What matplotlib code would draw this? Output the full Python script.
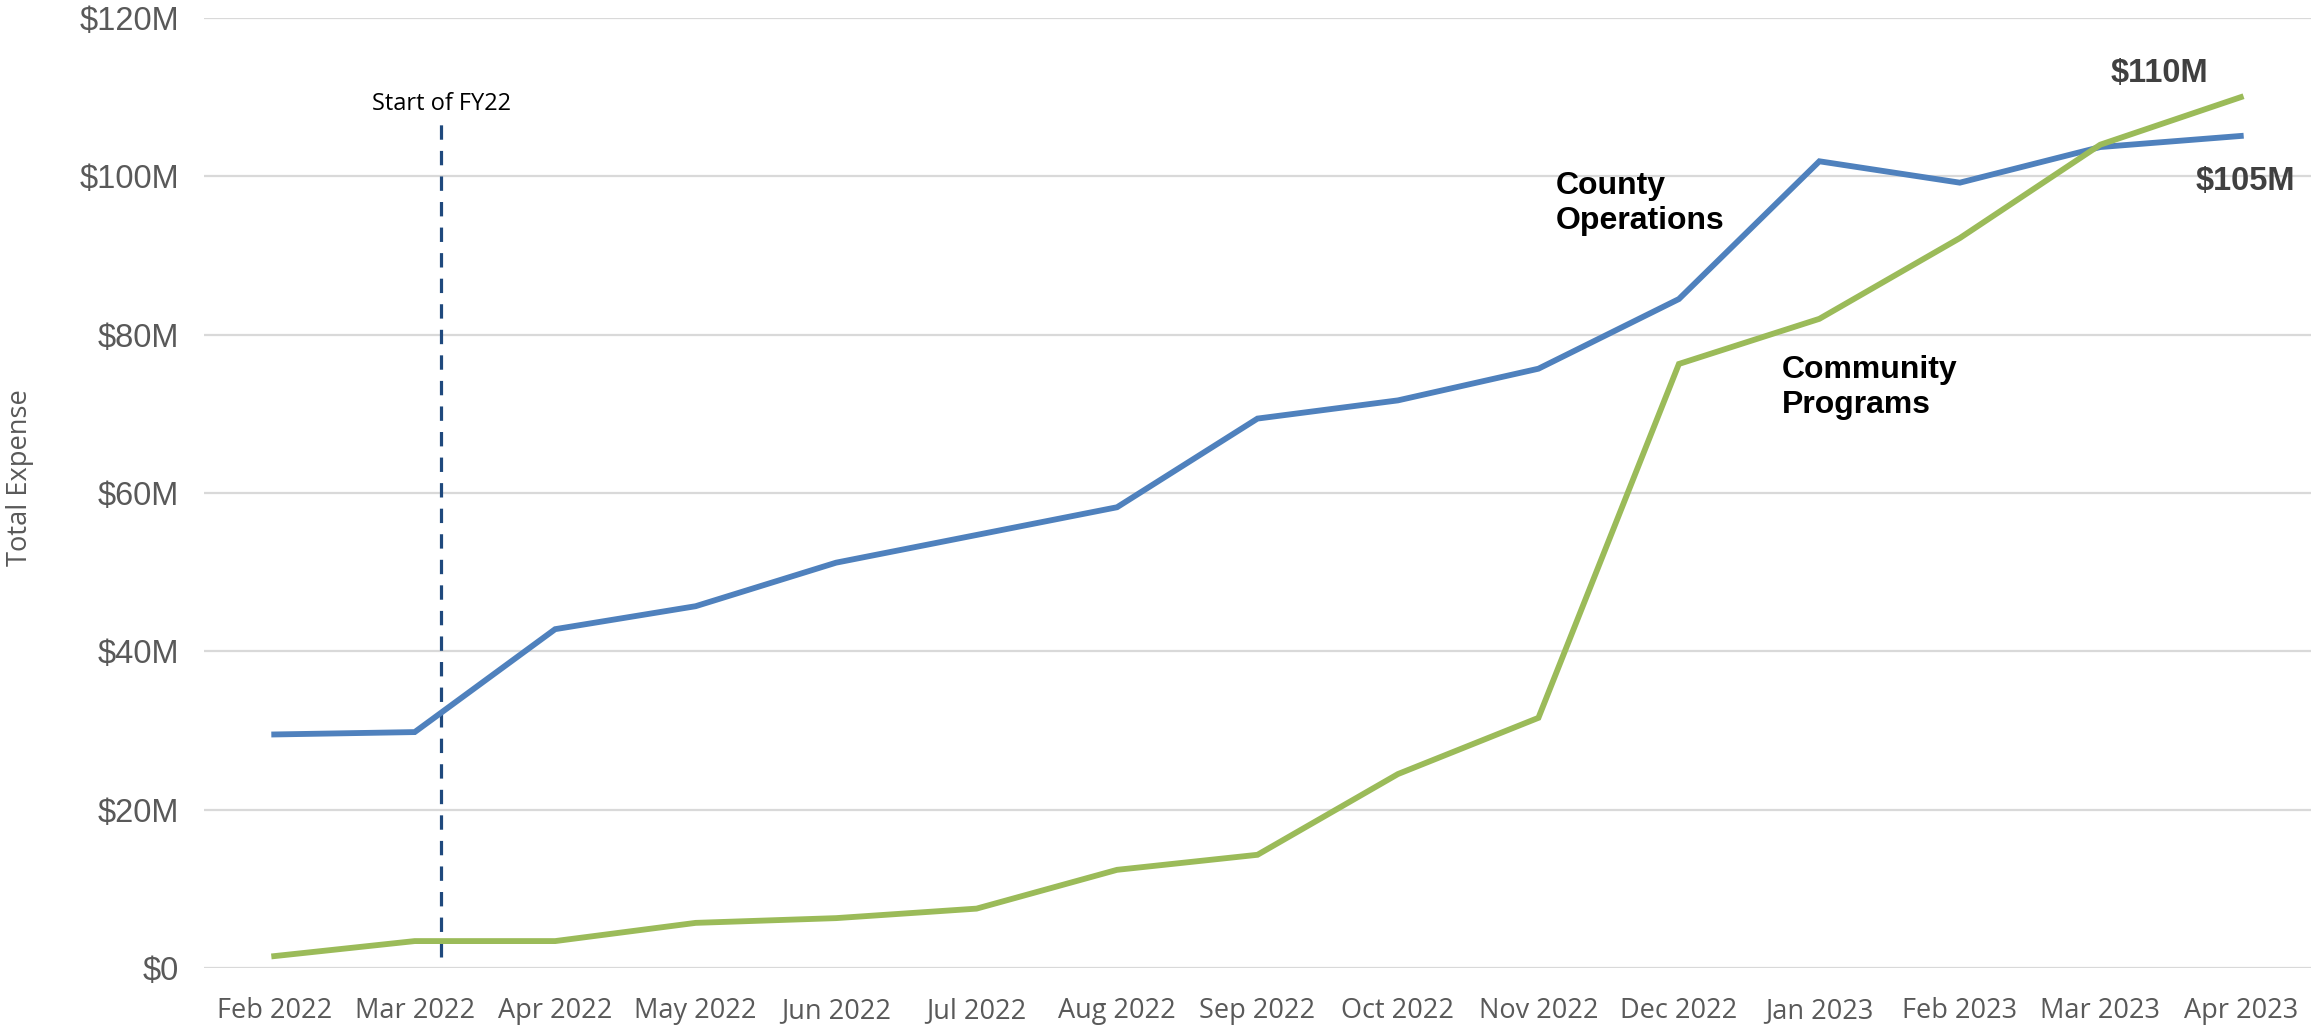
import matplotlib
matplotlib.use("Agg")
import matplotlib.pyplot as plt

months = ["Feb 2022", "Mar 2022", "Apr 2022", "May 2022", "Jun 2022", "Jul 2022",
          "Aug 2022", "Sep 2022", "Oct 2022", "Nov 2022", "Dec 2022", "Jan 2023",
          "Feb 2023", "Mar 2023", "Apr 2023"]
# cumulative expense, $M
county_ops = [29.5, 29.8, 42.8, 45.7, 51.2, 54.7, 58.2, 69.4, 71.7, 75.7, 84.5,
              101.9, 99.2, 103.7, 105.1]
community = [1.5, 3.4, 3.4, 5.7, 6.3, 7.5, 12.4, 14.3, 24.5, 31.6, 76.3,
             82.0, 92.2, 104.0, 110.0]
yticks = [0, 20, 40, 60, 80, 100, 120]
ytick_labels = ["$0", "$20M", "$40M", "$60M", "$80M", "$100M", "$120M"]
fy_start = 1.19  # just after Mar 2022

fig = plt.figure(figsize=(23.11, 10.26), dpi=100)
ax = fig.add_axes([204 / 2311, 58 / 1026, 2107 / 2311, 950 / 1026])

x = list(range(len(months)))
ax.plot(x, county_ops, color="#4F81BD", lw=4.2, solid_joinstyle="miter", zorder=3)
ax.plot(x, community, color="#9BBB59", lw=4.2, solid_joinstyle="miter", zorder=3)

# fiscal year marker
ax.plot([fy_start, fy_start], [1.4, 107.5], color="#1F497D", lw=2.3,
        dashes=(4.5, 3.5), zorder=2)
ax.text(fy_start, 108.4, "Start of FY22", ha="center", va="baseline",
        fontsize=17, family="Open Sans", color="black")

ax.set_xlim(-0.5, 14.5)
ax.set_ylim(0, 120)
ax.set_yticks(yticks)
ax.set_yticklabels(ytick_labels)
ax.set_xticks(x)
ax.set_xticklabels(months)
ax.grid(axis="y", color="#D9D9D9", lw=1.6, zorder=0)
ax.set_axisbelow(True)
for s in ax.spines.values():
    s.set_visible(False)
ax.tick_params(axis="both", length=0)
ax.tick_params(axis="y", pad=18, labelsize=23.5, labelcolor="#595959")
ax.tick_params(axis="x", pad=21, labelsize=19.5, labelcolor="#595959")
for lab in ax.get_yticklabels():
    lab.set_family("Liberation Sans")
for lab in ax.get_xticklabels():
    lab.set_family("Open Sans")

ax.set_ylabel("Total Expense", fontsize=19.6, color="#595959", family="Open Sans",
              va="center")
ax.yaxis.set_label_coords(-0.0875, 0.516)

# series labels
ax.text(9.125, 96.6, "County\nOperations", ha="left", va="center", fontsize=23,
        fontweight="bold", family="Liberation Sans", color="black", linespacing=1.2)
ax.text(10.73, 73.3, "Community\nPrograms", ha="left", va="center", fontsize=23,
        fontweight="bold", family="Liberation Sans", color="black", linespacing=1.2)
ax.text(13.42, 113.0, "$110M", ha="center", va="center", fontsize=23.5,
        fontweight="bold", family="Liberation Sans", color="#404040")
ax.text(14.03, 99.3, "$105M", ha="center", va="center", fontsize=23.5,
        fontweight="bold", family="Liberation Sans", color="#404040")

fig.savefig("out.png", dpi=100)
